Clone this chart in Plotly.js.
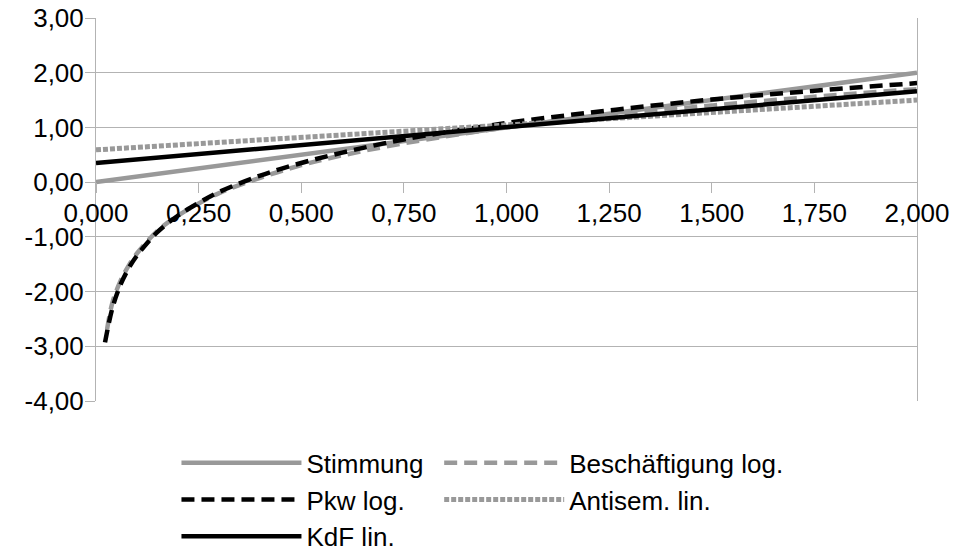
<!DOCTYPE html>
<html>
<head>
<meta charset="utf-8">
<script src="https://cdn.plot.ly/plotly-3.0.1.min.js"></script>
<style>html,body{margin:0;padding:0;background:#fff;}#chart{width:971px;height:553px;}</style>
</head>
<body>
<div id="chart"></div>
<script>
// Series names
var seriesNames = ["Stimmung", "Beschäftigung log.", "Pkw log.", "Antisem. lin.", "KdF lin."];

// Stimmung (linear)
var stimmungX = [0, 0.5, 1.0, 1.5, 2.0];
var stimmungY = [0.00, 0.50, 1.00, 1.50, 2.00];

// Beschäftigung log.
var beschX = [0.027, 0.04, 0.06, 0.08, 0.1, 0.15, 0.2, 0.25, 0.3, 0.4, 0.5, 0.6, 0.75, 1.0, 1.25, 1.5, 1.75, 2.0];
var beschY = [-2.69, -2.20, -1.80, -1.52, -1.30, -0.89, -0.61, -0.39, -0.20, 0.08, 0.31, 0.49, 0.71, 1.00, 1.22, 1.40, 1.56, 1.70];

// Pkw log.
var pkwX = [0.022, 0.04, 0.06, 0.08, 0.1, 0.15, 0.2, 0.25, 0.3, 0.4, 0.5, 0.6, 0.75, 1.0, 1.25, 1.5, 1.75, 2.0];
var pkwY = [-2.93, -2.30, -1.87, -1.57, -1.34, -0.91, -0.61, -0.38, -0.18, 0.12, 0.35, 0.54, 0.78, 1.08, 1.31, 1.51, 1.67, 1.81];

// Antisem. lin.
var antisemX = [0, 0.5, 1.0, 1.5, 2.0];
var antisemY = [0.59, 0.82, 1.04, 1.27, 1.50];

// KdF lin.
var kdfX = [0, 0.5, 1.0, 1.5, 2.0];
var kdfY = [0.35, 0.68, 1.00, 1.33, 1.66];

// Axis ticks
var xTicks = [0, 0.25, 0.5, 0.75, 1.0, 1.25, 1.5, 1.75, 2.0];
var xTickText = ["0,000", "0,250", "0,500", "0,750", "1,000", "1,250", "1,500", "1,750", "2,000"];
var yTicks = [-4, -3, -2, -1, 0, 1, 2, 3];
var yTickText = ["-4,00", "-3,00", "-2,00", "-1,00", "0,00", "1,00", "2,00", "3,00"];

var GRAY = "#999999";
var FONT = "Liberation Sans, Arial, sans-serif";
var FS = 26;

var traces = [
  {x: stimmungX, y: stimmungY, name: seriesNames[0], mode: "lines", legend: "legend", legendgroup: "g1",
   line: {color: GRAY, width: 4.5}},
  {x: beschX, y: beschY, name: seriesNames[1], mode: "lines", legend: "legend2", legendgroup: "g2",
   line: {color: GRAY, width: 4.5, dash: "13px,7px", shape: "spline"}},
  {x: pkwX, y: pkwY, name: seriesNames[2], mode: "lines", legend: "legend", legendgroup: "g3",
   line: {color: "#000000", width: 4.5, dash: "13px,7px", shape: "spline"}},
  {x: antisemX, y: antisemY, name: seriesNames[3], mode: "lines", legend: "legend2", legendgroup: "g4",
   line: {color: GRAY, width: 5, dash: "5px,2px"}},
  {x: kdfX, y: kdfY, name: seriesNames[4], mode: "lines", legend: "legend", legendgroup: "g5",
   line: {color: "#000000", width: 4.5}}
];

var legendCommon = {
  orientation: "v", traceorder: "grouped", tracegroupgap: 0, itemwidth: 120,
  font: {family: FONT, size: FS, color: "#000"}, bgcolor: "rgba(0,0,0,0)",
  xanchor: "left", yanchor: "top", itemclick: false
};

var layout = {
  width: 971, height: 553,
  margin: {l: 96, r: 54, t: 18, b: 152, autoexpand: false},
  paper_bgcolor: "#ffffff", plot_bgcolor: "#ffffff",
  font: {family: FONT, size: FS, color: "#000"},
  showlegend: true,
  xaxis: {
    range: [0, 2], tickvals: xTicks, ticktext: xTickText,
    anchor: "free", position: 4/7, automargin: false,
    showgrid: false, zeroline: false, showline: false,
    ticks: "outside", ticklen: 10, tickcolor: "#b3b3b3", tickwidth: 1,
    ticklabelstandoff: -2,
    tickfont: {family: FONT, size: FS, color: "#000"}
  },
  yaxis: {
    range: [-4, 3], tickvals: yTicks, ticktext: yTickText, automargin: false,
    showgrid: true, gridcolor: "#b3b3b3", gridwidth: 1,
    zeroline: false, showline: true, linecolor: "#b3b3b3", linewidth: 1, mirror: true,
    ticks: "outside", ticklen: 10, tickcolor: "#b3b3b3", tickwidth: 1,
    ticklabelstandoff: -4,
    tickfont: {family: FONT, size: FS, color: "#000"}
  },
  legend: Object.assign({}, legendCommon, {x: 0.098, y: -0.1}),
  legend2: Object.assign({}, legendCommon, {x: 0.418, y: -0.1})
};

Plotly.newPlot("chart", traces, layout, {staticPlot: true, displayModeBar: false});
</script>
</body>
</html>
